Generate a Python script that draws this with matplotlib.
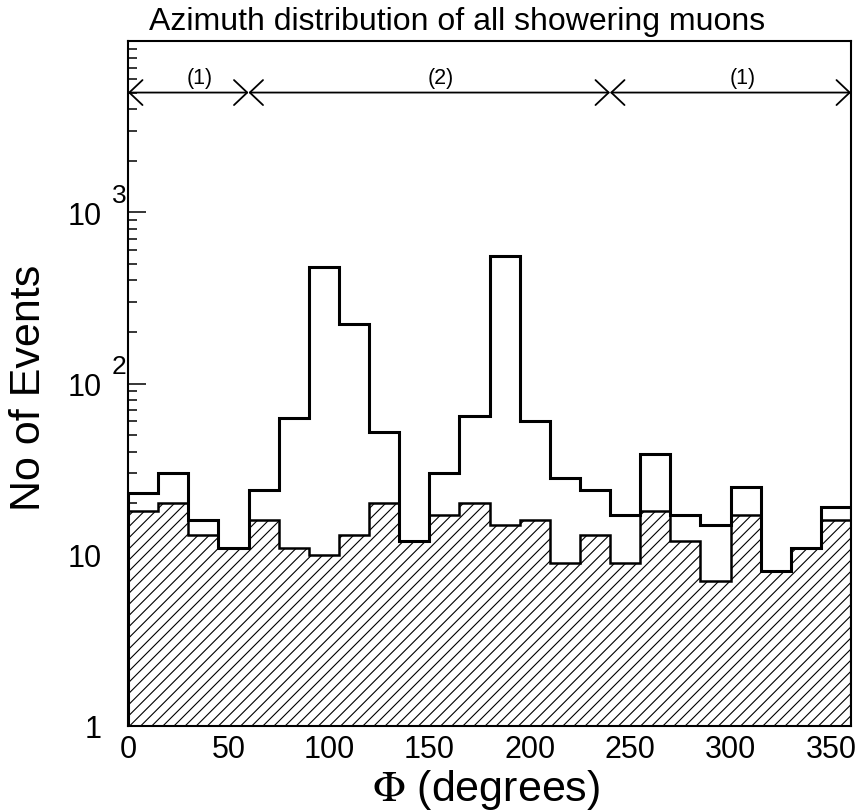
import numpy as np
import matplotlib
matplotlib.use("Agg")
import matplotlib.pyplot as plt
from matplotlib.ticker import FixedLocator, FuncFormatter, MultipleLocator
import matplotlib.transforms as mtransforms

plt.rcParams['font.family'] = ['Liberation Sans', 'DejaVu Sans']
plt.rcParams['mathtext.fontset'] = 'stix'
plt.rcParams['hatch.linewidth'] = 0.8

# ---- data ----
phi_edges = np.arange(0, 375, 15)  # 24 bins of 15 degrees
all_counts = [23, 30, 16, 11, 24, 63, 480, 224, 52, 12, 30, 65,
              555, 60, 28, 24, 17, 39, 17, 15, 25, 8, 11, 19]
sel_counts = [18, 20, 13, 11, 16, 11, 10, 13, 20, 12, 17, 20,
              15, 16, 9, 13, 9, 18, 12, 7, 17, 8, 11, 16]
region_bounds = [0, 60, 240, 360]
region_labels = ['(1)', '(2)', '(1)']
arrow_level = 5000
title = "Azimuth distribution of all showering muons"
xlabel = r"$\Phi$ (degrees)"
ylabel = "No of Events"

W, H = 858, 812
fig = plt.figure(figsize=(W / 100, H / 100), dpi=100)
ax = fig.add_axes([128 / W, 1 - 727 / H, (851 - 128) / W, (727 - 42) / H])

ax.set_yscale('log')
ax.set_xlim(0, 360)
ax.set_ylim(1, 1e4)

ax.stairs(sel_counts, phi_edges, baseline=1, fill=True, facecolor='white',
          edgecolor='black', hatch='///', lw=1.8, zorder=2)
ax.stairs(all_counts, phi_edges, baseline=1, fill=False, color='black',
          lw=2.2, zorder=3)

# region arrows
for i in range(len(region_labels)):
    a, b = region_bounds[i], region_bounds[i + 1]
    ax.annotate('', xy=(a, arrow_level), xytext=(b, arrow_level),
                arrowprops=dict(arrowstyle='<->,head_length=0.95,head_width=0.9',
                                lw=1.3, color='black', shrinkA=0, shrinkB=0),
                zorder=4)
    ax.annotate(region_labels[i], xy=((a + b) / 2, arrow_level),
                xytext=(8.5, 3), textcoords='offset points',
                ha='center', va='bottom', fontsize=15.5)

# ticks
ax.xaxis.set_major_locator(MultipleLocator(50))
ax.xaxis.set_minor_locator(MultipleLocator(10))
ax.yaxis.set_major_locator(FixedLocator([1, 10, 100, 1000, 10000]))
ax.yaxis.set_minor_locator(FixedLocator(
    [m * 10 ** k for k in range(0, 4) for m in range(2, 10)]))

def yfmt(v, pos):
    if v >= 9999:
        return ''
    if v < 2:
        return '1'
    return '10'

ax.yaxis.set_major_formatter(FuncFormatter(yfmt))
ax.yaxis.set_minor_formatter(FuncFormatter(lambda v, p: ''))

ax.tick_params(axis='both', which='both', direction='in', top=False, right=False,
               labelsize=22, width=1.1)
ax.tick_params(axis='y', which='major', length=13, pad=19)
ax.tick_params(axis='y', which='minor', length=6.5)
ax.tick_params(axis='x', which='major', length=8, pad=6)
ax.tick_params(axis='x', which='minor', length=4.5)

for s in ax.spines.values():
    s.set_linewidth(1.5)

# superscripts for 10^2, 10^3
trans = mtransforms.blended_transform_factory(ax.transAxes, ax.transData)
for k in [2, 3]:
    ax.annotate(str(k), xy=(-0.002, 10 ** k), xycoords=trans,
                xytext=(0, 4), textcoords='offset points',
                ha='right', va='bottom', fontsize=19, annotation_clip=False)

fig.text(457 / W, 1 - 30 / H, title, ha='center', va='baseline', fontsize=23)
fig.text(29 / W, 1 - 388 / H, ylabel, rotation=90, ha='center', va='center', fontsize=31)
fig.text(486 / W, 1 - 790 / H, xlabel, ha='center', va='center', fontsize=31)

fig.savefig('out.png', dpi=100)
